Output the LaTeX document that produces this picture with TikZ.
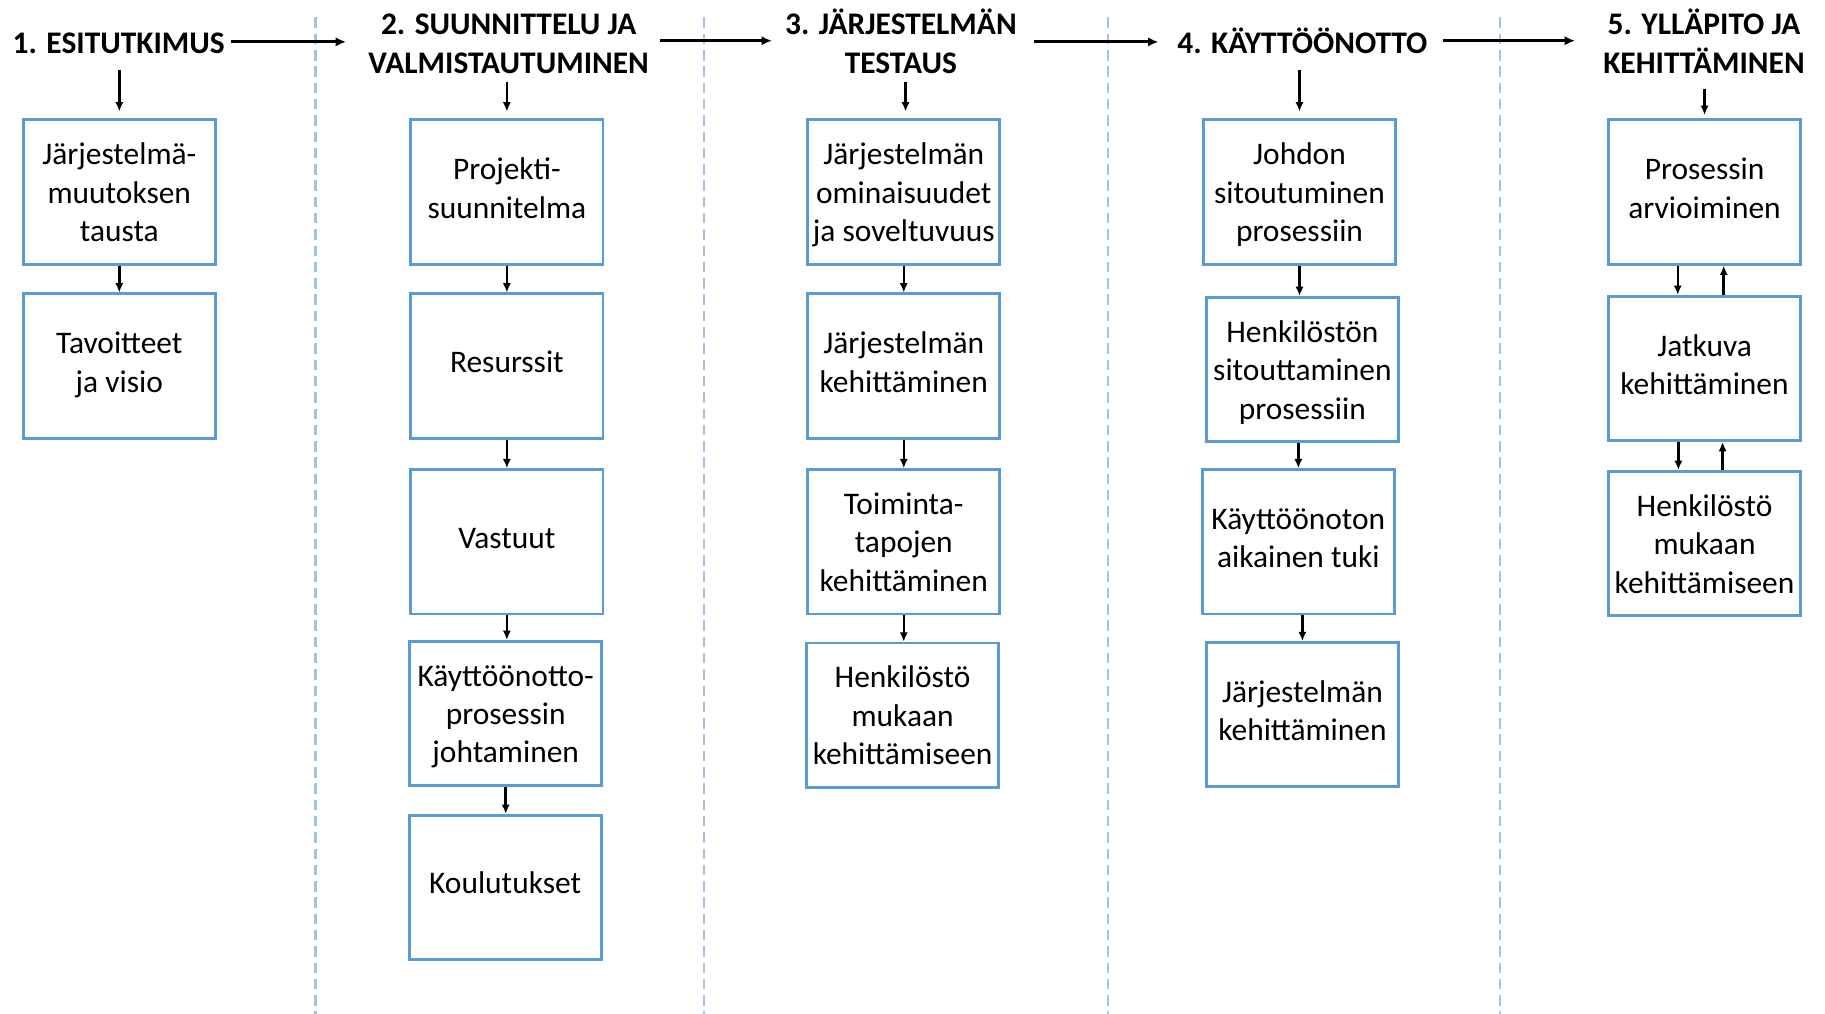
\documentclass[tikz,border=0pt]{standalone}
\usepackage{fontspec}
\setmainfont{Carlito}
\usetikzlibrary{arrows.meta}
\definecolor{boxblue}{HTML}{5B9BD5}
\definecolor{dashblue}{HTML}{9DC3E6}
\begin{document}
\begin{tikzpicture}[x=1pt,y=-1pt,
  box/.style={draw=boxblue, line width=2.4pt, minimum width=165pt, minimum height=124pt,
    inner sep=0pt, align=center, font=\fontsize{27}{33}\selectfont},
  % fixed text box sizes so that the baselines sit at the same place in every box
  lines1/.style={box, text height=22pt, text depth=11pt},
  lines2/.style={box, text height=56pt, text depth=11pt},
  lines3/.style={box, text height=96pt, text depth=11pt},
  phase/.style={inner sep=0pt, align=center, font=\fontsize{27}{33}\selectfont\bfseries},
  flow/.style={line width=2.2pt, -{Latex[length=8pt,width=7pt]}},
  stage/.style={line width=2.6pt, -{Latex[length=9pt,width=8pt]}},
  divider/.style={draw=dashblue, line width=2pt, dash pattern=on 9pt off 5pt}]
\useasboundingbox (0,0) rectangle (1568,871);

% phase dividers
\foreach \x in {271,605,952,1289}
  \draw[divider] (\x,15) -- (\x,871);

% phase headings
\node[phase] (h1) at (102,37)   {1. ESITUTKIMUS};
\node[phase] (h2) at (437,37.8) {2. SUUNNITTELU JA\\VALMISTAUTUMINEN};
\node[phase] (h3) at (774,35.5) {3. JÄRJESTELMÄN\\TESTAUS};
\node[phase] (h4) at (1119,35)  {4. KÄYTTÖÖNOTTO};
\node[phase] (h5) at (1464,35.5){5. YLLÄPITO JA\\KEHITTÄMINEN};

% phase 1
\node[lines3] (b1a) at (102.5,165)   {Järjestelmä-\\muutoksen\\tausta};
\node[lines2] (b1b) at (102.5,314.5) {Tavoitteet\\ja visio};

% phase 2
\node[lines2] (b2a) at (435.5,165)   {Projekti-\\suunnitelma};
\node[lines1] (b2b) at (435.5,314.5) {Resurssit};
\node[lines1] (b2c) at (435.5,465.5) {Vastuut};
\node[lines3] (b2d) at (434.5,613)   {Käyttöönotto-\\prosessin\\johtaminen};
\node[lines1] (b2e) at (434,762.5)   {Koulutukset};

% phase 3
\node[lines3] (b3a) at (776.5,165)   {Järjestelmän\\ominaisuudet\\ja soveltuvuus};
\node[lines2] (b3b) at (776.5,314.5) {Järjestelmän\\kehittäminen};
\node[lines3] (b3c) at (776.5,465.5) {Toiminta-\\tapojen\\kehittäminen};
\node[lines3] (b3d) at (775.5,614.5) {Henkilöstö\\mukaan\\kehittämiseen};

% phase 4
\node[lines3] (b4a) at (1116.5,165)  {Johdon\\sitoutuminen\\prosessiin};
\node[lines3] (b4b) at (1119,317.5)  {Henkilöstön\\sitouttaminen\\prosessiin};
\node[lines2] (b4c) at (1115.5,465.5){Käyttöönoton\\aikainen tuki};
\node[lines2] (b4d) at (1119,614)    {Järjestelmän\\kehittäminen};

% phase 5
\node[lines2] (b5a) at (1464.5,165)  {Prosessin\\arvioiminen};
\node[lines2] (b5b) at (1464.5,316.5){Jatkuva\\kehittäminen};
\node[lines3] (b5c) at (1464.5,467)  {Henkilöstö\\mukaan\\kehittämiseen};

% arrows between phases
\draw[stage, shorten <=5pt, shorten >=19pt] ([yshift=1pt]h1.east) -- ([yshift=1pt]h1.east -| h2.west);
\draw[stage, shorten <=9pt, shorten >=11pt] ([yshift=2.8pt]h2.east) -- ([yshift=2.8pt]h2.east -| h3.west);
\draw[stage, shorten <=15pt, shorten >=16pt] ([yshift=-0.5pt]h3.east) -- ([yshift=-0.5pt]h3.east -| h4.west);
\draw[stage, shorten <=13pt, shorten >=24pt] (h4.east) -- (h4.east -| h5.west);

% arrows from headings into the first box
\draw[flow, shorten <=14pt, shorten >=6pt] (h1.south -| b1a.north) -- (b1a.north);
\draw[flow, shorten <=7pt, shorten >=6pt]  (h2.south -| b2a.north) -- (b2a.north);
\draw[flow, shorten <=7pt, shorten >=6pt]  ([xshift=1.5pt]h3.south -| b3a.north) -- ([xshift=1.5pt]b3a.north);
\draw[flow, shorten <=14pt, shorten >=6pt] (h4.south -| b4a.north) -- (b4a.north);
\draw[flow, shorten <=13pt, shorten >=3pt] (h5.south -| b5a.north) -- (b5a.north);

% arrows inside the phases
\draw[flow] (b1a.south) -- (b1b.north);
\draw[flow] (b2a.south) -- (b2b.north);
\draw[flow] (b2b.south) -- (b2c.north);
\draw[flow] (b2c.south) -- (b2c.south |- b2d.north);
\draw[flow] (b2d.south) -- (b2d.south |- b2e.north);
\draw[flow] (b3a.south) -- (b3b.north);
\draw[flow] (b3b.south) -- (b3c.north);
\draw[flow] (b3c.south) -- (b3c.south |- b3d.north);
\draw[flow] (b4a.south) -- (b4a.south |- b4b.north);
\draw[flow] (b4b.south -| b4c.north) -- (b4c.north);
\draw[flow] (b4d.north |- b4c.south) -- (b4d.north);

% two-way links in phase 5
\draw[flow] ([xshift=-23pt]b5a.south) -- ([xshift=-23pt]b5b.north);
\draw[flow] ([xshift=16.5pt]b5b.north) -- ([xshift=16.5pt]b5a.south);
\draw[flow] ([xshift=-22.5pt]b5b.south) -- ([xshift=-22.5pt]b5c.north);
\draw[flow] ([xshift=15.5pt]b5c.north) -- ([xshift=15.5pt]b5b.south);
\end{tikzpicture}
\end{document}
